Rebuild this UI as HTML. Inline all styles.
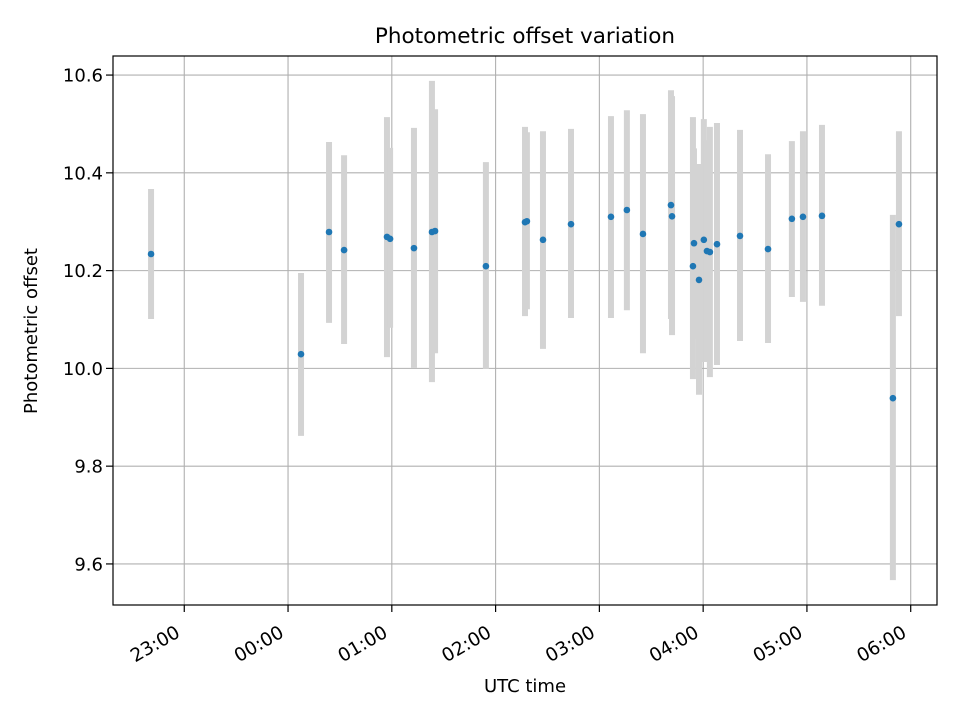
<!DOCTYPE html>
<html><head><meta charset="utf-8"><style>
body{margin:0;background:#fff}
svg{display:block;font-family:"DejaVu Sans","Liberation Sans",sans-serif}
</style></head><body>
<svg id="chart" width="960" height="720" viewBox="0 0 960 720">
<rect width="960" height="720" fill="#fff"/>
<g id="grid"></g>
<g id="bars"></g>
<g id="pts"></g>
<rect x="113" y="56" width="824" height="549" fill="none" stroke="#000" stroke-width="1.2"/>
<g id="ticks"></g>
<text x="525" y="43" text-anchor="middle" font-size="21.5">Photometric offset variation</text>
<text x="525" y="692" text-anchor="middle" font-size="18">UTC time</text>
<text transform="translate(37,331) rotate(-90)" text-anchor="middle" font-size="18">Photometric offset</text>
</svg>
<script>
// minutes relative to 00:00 UTC
const times = [-79.2,7.5,23.7,32.4,57.2,59.0,72.8,83.2,85.0,114.4,137.0,138.1,147.4,163.6,186.7,195.9,205.2,221.4,222.0,234.1,234.7,237.6,240.4,242.2,243.9,248.0,261.3,277.5,291.3,297.7,308.7,349.7,353.2];
const offsets = [10.234,10.029,10.279,10.242,10.269,10.265,10.246,10.279,10.281,10.209,10.299,10.301,10.263,10.295,10.310,10.324,10.275,10.334,10.311,10.209,10.256,10.181,10.263,10.240,10.238,10.254,10.271,10.244,10.306,10.310,10.312,9.939,10.295];
const errHigh = [10.367,10.195,10.463,10.436,10.514,10.451,10.492,10.588,10.530,10.422,10.494,10.483,10.485,10.490,10.516,10.528,10.520,10.569,10.557,10.514,10.45,10.418,10.510,10.467,10.494,10.502,10.488,10.438,10.465,10.485,10.498,10.314,10.485];
const errLow = [10.101,9.862,10.093,10.050,10.023,10.083,10.001,9.972,10.031,9.999,10.107,10.121,10.040,10.103,10.103,10.119,10.031,10.101,10.068,9.978,10.06,9.946,10.013,10.013,9.982,10.007,10.056,10.052,10.146,10.136,10.128,9.567,10.107];
const xTickMinutes = [-60,0,60,120,180,240,300,360];
const xTickLabels = ["23:00","00:00","01:00","02:00","03:00","04:00","05:00","06:00"];
const yTicks = [9.6,9.8,10.0,10.2,10.4,10.6];
const yTickLabels = ["9.6","9.8","10.0","10.2","10.4","10.6"];

const X0=113,X1=937,Y0=56,Y1=605;
const xMin=-101.2,xMax=375.2,yMin=9.516,yMax=10.639;
const sx=m=>X0+(m-xMin)/(xMax-xMin)*(X1-X0);
const sy=v=>Y1-(v-yMin)/(yMax-yMin)*(Y1-Y0);
const NS="http://www.w3.org/2000/svg";
function mk(tag,attrs,parent){const e=document.createElementNS(NS,tag);for(const k in attrs)e.setAttribute(k,attrs[k]);parent.appendChild(e);return e;}
const grid=document.getElementById('grid'),ticks=document.getElementById('ticks'),bars=document.getElementById('bars'),pts=document.getElementById('pts');
xTickMinutes.forEach((m,i)=>{
  const x=sx(m);
  const g=mk('line',{x1:x,x2:x,y1:Y0,y2:Y1,stroke:'#b0b0b0','stroke-width':1.1},grid);
  
  
  const t=mk('line',{x1:x,x2:x,y1:Y1,y2:Y1+7,stroke:'#000','stroke-width':1.2},ticks);
  
  
  const tx=mk('text',{x:x-3,y:Y1+31,'text-anchor':'end','font-size':18.5,transform:`rotate(-30 ${x-3} ${Y1+31})`},ticks);
  tx.textContent=xTickLabels[i];
  
  
});
yTicks.forEach((v,i)=>{
  const y=sy(v);
  const g=mk('line',{x1:X0,x2:X1,y1:y,y2:y,stroke:'#b0b0b0','stroke-width':1.1},grid);
  
  
  const t=mk('line',{x1:X0-7,x2:X0,y1:y,y2:y,stroke:'#000','stroke-width':1.2},ticks);
  
  
  const tx=mk('text',{x:X0-10,y:y+6.5,'text-anchor':'end','font-size':18},ticks);
  tx.textContent=yTickLabels[i];
  
  
});
times.forEach((m,i)=>{
  const x=sx(m);
  const b=mk('line',{x1:x,x2:x,y1:sy(errHigh[i]),y2:sy(errLow[i]),stroke:'#d3d3d3','stroke-width':6},bars);
  
  
  const c=mk('circle',{cx:x,cy:sy(offsets[i]),r:3.3,fill:'#1f77b4'},pts);
  
  
});
</script>
</body></html>
